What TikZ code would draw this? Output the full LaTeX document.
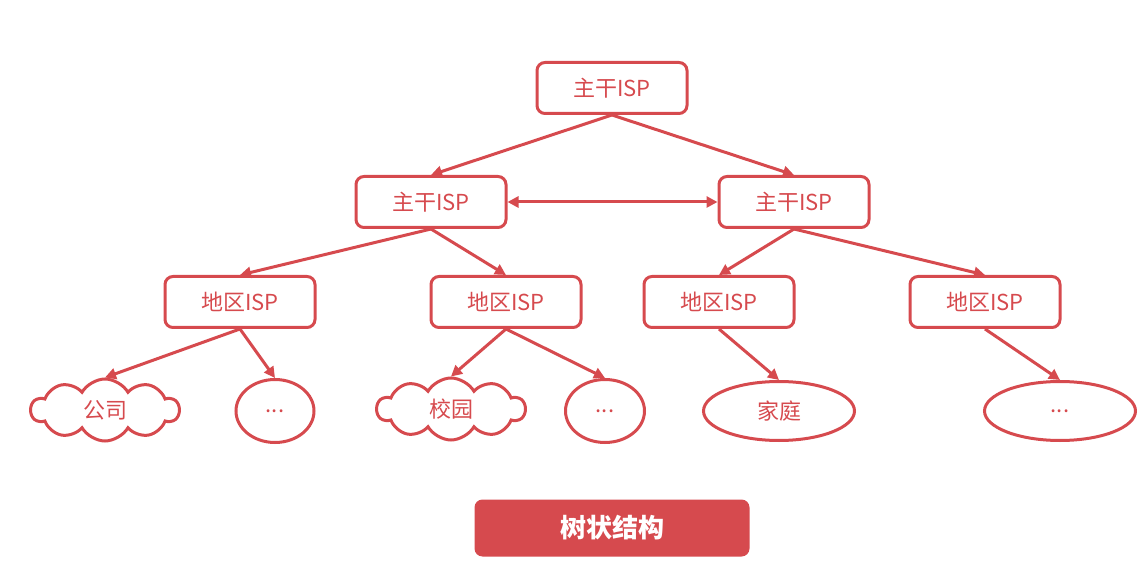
\documentclass[tikz,border=0pt]{standalone}
\usepackage{fontspec}
\setmainfont{Noto Sans CJK SC}
\usetikzlibrary{shapes.symbols,shapes.geometric,arrows.meta}
\definecolor{tred}{HTML}{D64A4E}
\begin{document}
\begin{tikzpicture}[x=1pt,y=-1pt,
  ispbox/.style={draw=tred,line width=3pt,rounded corners=8pt,minimum width=150pt,minimum height=51pt,text=tred,font=\fontsize{22}{26}\selectfont,inner sep=0pt},
  cloudbox/.style={cloud,cloud puffs=10,cloud puff arc=120,draw=tred,line width=3pt,minimum width=148pt,minimum height=62pt,text=tred,font=\fontsize{22}{26}\selectfont,inner sep=0pt,aspect=2.4},
  ellbox/.style={ellipse,draw=tred,line width=3pt,text=tred,font=\fontsize{22}{26}\selectfont,inner sep=0pt},
  conn/.style={draw=tred,line width=3pt,-{Triangle[length=11pt,width=11pt]}},
  dconn/.style={draw=tred,line width=3pt,{Triangle[length=11pt,width=11pt]}-{Triangle[length=11pt,width=11pt]}}]
\useasboundingbox (0,0) rectangle (1144,569);
\node[ispbox] (top) at (612,88) {主干ISP};
\node[ispbox] (l) at (431,202) {主干ISP};
\node[ispbox] (r) at (794,202) {主干ISP};
\node[ispbox] (a) at (240,302) {地区ISP};
\node[ispbox] (b) at (506,302) {地区ISP};
\node[ispbox] (c) at (719,302) {地区ISP};
\node[ispbox] (d) at (985,302) {地区ISP};
\node[cloudbox] (gs) at (105,410) {公司};
\node[ellbox,minimum width=78pt,minimum height=63pt] (e1) at (275,411) {...};
\node[cloudbox] (xy) at (451,409) {校园};
\node[ellbox,minimum width=79pt,minimum height=63pt] (e2) at (605,411) {...};
\node[ellbox,minimum width=151pt,minimum height=59pt] (jt) at (779,411) {家庭};
\node[ellbox,minimum width=151pt,minimum height=59pt] (e3) at (1060,411) {...};
\node[fill=tred,rounded corners=8pt,minimum width=275pt,minimum height=57pt,text=white,font=\fontsize{26}{30}\selectfont\bfseries] (lab) at (612,528) {树状结构};
\draw[conn] (top.south) -- (l.north);
\draw[conn] (top.south) -- (r.north);
\draw[dconn] (l.east) -- (r.west);
\draw[conn] (l.south) -- (a.north);
\draw[conn] (l.south) -- (b.north);
\draw[conn] (r.south) -- (c.north);
\draw[conn] (r.south) -- (d.north);
\draw[conn] (a.south) -- (gs.north);
\draw[conn] (a.south) -- (e1.north);
\draw[conn] (b.south) -- (xy.north);
\draw[conn] (b.south) -- (e2.north);
\draw[conn] (c.south) -- (jt.north);
\draw[conn] (d.south) -- (e3.north);
\end{tikzpicture}
\end{document}
